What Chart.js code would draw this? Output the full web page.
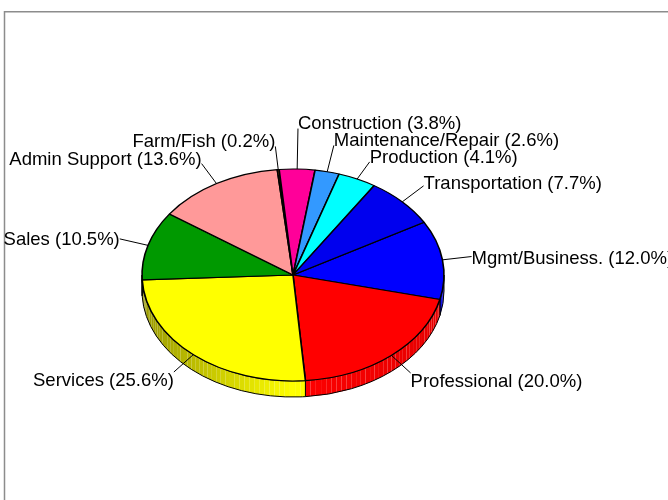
<!DOCTYPE html>
<html>
<head>
<meta charset="utf-8">
<script src="https://cdn.jsdelivr.net/npm/chart.js@4.4.0/dist/chart.umd.min.js"></script>
<style>
  html, body { margin: 0; padding: 0; background: #fff; }
  canvas { display: block; }
</style>
</head>
<body>
<canvas id="pie3d" width="668" height="500"></canvas>
<script>
const categories = [
  "Mgmt/Business.", "Professional", "Services", "Sales", "Admin Support",
  "Farm/Fish", "Construction", "Maintenance/Repair", "Production", "Transportation",
];
const shares = [12.0, 20.0, 25.6, 10.5, 13.6, 0.2, 3.8, 2.6, 4.1, 7.7];
const sliceColors = [
  "#0000ff", "#ff0000", "#ffff00", "#009900", "#ff9999",
  "#cc6600", "#ff0099", "#3399ff", "#00ffff", "#0000ee",
];

const tilt = 0.702;      // vertical squash of the top face
const depth = 16;        // rim thickness
const labelRad = 1.195;  // label ellipse relative to pie
const boxH = 17;         // min vertical gap between overlapping labels
const labelFont = '18.5px "Liberation Sans", Arial, sans-serif';

function shadeColor(hex, f) {
  const n = parseInt(hex.slice(1), 16);
  const r = Math.round(((n >> 16) & 255) * f);
  const g = Math.round(((n >> 8) & 255) * f);
  const b = Math.round((n & 255) * f);
  return `rgb(${r},${g},${b})`;
}

function sideShade(t) {
  const c = Math.cos(t);
  return c > 0 ? 1 - 0.1 * c : 1 + 0.4 * c;
}

const pie3dPlugin = {
  id: "pie3d",
  beforeDraw(chart) {
    const ctx = chart.ctx;
    ctx.save();
    ctx.strokeStyle = "#8c8c8c";
    ctx.lineWidth = 1.5;
    ctx.beginPath();
    ctx.moveTo(4.5, 500);
    ctx.lineTo(4.5, 11.7);
    ctx.lineTo(668, 11.7);
    ctx.stroke();
    ctx.restore();
  },
  beforeDatasetsDraw(chart) {
    const ctx = chart.ctx;
    const arcs = chart.getDatasetMeta(0).data;
    const cx = arcs[0].x, cy = arcs[0].y;
    const a = arcs[0].outerRadius, b = a * tilt;

    // rim: only the front half (angles 0..PI) is visible
    ctx.save();
    arcs.forEach((arc, i) => {
      for (let k = -1; k <= 1; k++) {
        const lo = Math.max(arc.startAngle, 2 * Math.PI * k);
        const hi = Math.min(arc.endAngle, 2 * Math.PI * k + Math.PI);
        if (hi <= lo) continue;
        const steps = Math.max(1, Math.ceil((hi - lo) / (Math.PI / 90)));
        for (let j = 0; j < steps; j++) {
          const t1 = lo + ((hi - lo) * j) / steps;
          const t2 = lo + ((hi - lo) * (j + 1)) / steps;
          ctx.beginPath();
          ctx.moveTo(cx + a * Math.cos(t1), cy + b * Math.sin(t1));
          ctx.lineTo(cx + a * Math.cos(t2), cy + b * Math.sin(t2));
          ctx.lineTo(cx + a * Math.cos(t2), cy + b * Math.sin(t2) + depth);
          ctx.lineTo(cx + a * Math.cos(t1), cy + b * Math.sin(t1) + depth);
          ctx.closePath();
          ctx.fillStyle = shadeColor(sliceColors[i], sideShade((t1 + t2) / 2));
          ctx.fill();
        }
        ctx.beginPath();
        ctx.ellipse(cx, cy, a, b, 0, lo, hi);
        ctx.lineTo(cx + a * Math.cos(hi), cy + b * Math.sin(hi) + depth);
        ctx.ellipse(cx, cy + depth, a, b, 0, hi, lo, true);
        ctx.closePath();
        ctx.strokeStyle = "#000";
        ctx.lineWidth = 1;
        ctx.stroke();
      }
    });
    ctx.restore();

    // squash the top face into an ellipse
    ctx.save();
    ctx.translate(cx, cy);
    ctx.scale(1, tilt);
    ctx.translate(-cx, -cy);
  },
  afterDatasetsDraw(chart) {
    const ctx = chart.ctx;
    ctx.restore();

    const arcs = chart.getDatasetMeta(0).data;
    const cx = arcs[0].x, cy = arcs[0].y;
    const a = arcs[0].outerRadius, b = a * tilt;

    ctx.save();
    ctx.font = labelFont;

    // place labels, pushing apart the ones that collide
    const placed = [];
    for (let i = arcs.length - 1; i >= 0; i--) {
      const arc = arcs[i];
      const mid = (arc.startAngle + arc.endAngle) / 2;
      const c = Math.cos(mid), s = Math.sin(mid);
      const text = `${categories[i]} (${shares[i].toFixed(1)}%)`;
      const w = ctx.measureText(text).width;
      const px = cx + a * labelRad * c;
      const x0 = c >= 0 ? px : px - w;
      const x1 = x0 + w;
      const dir = s < 0 ? -1 : 1;
      const lab = { text, c, s, px, x0, x1, ty: cy + 3 + (b * labelRad + 10) * s, shifted: false };
      for (const p of placed) {
        const gap = Math.abs(lab.ty - p.ty);
        if (x0 < p.x1 && x1 > p.x0 && gap < boxH) {
          if (!p.shifted) {
            p.ty -= (dir * (boxH - gap)) / 2;
            lab.ty += (dir * (boxH - gap)) / 2;
            p.shifted = true;
          } else {
            lab.ty = p.ty + dir * boxH;
          }
          lab.shifted = true;
        }
      }
      placed.push(lab);
    }

    ctx.fillStyle = "#000";
    ctx.strokeStyle = "#000";
    ctx.lineWidth = 1;
    ctx.textBaseline = "middle";
    placed.forEach((p) => {
      const py = p.ty - 3 - 7.5 * p.s;
      ctx.beginPath();
      ctx.moveTo(cx + a * p.c, cy + b * p.s);
      ctx.lineTo(p.px, py);
      ctx.stroke();
      ctx.textAlign = p.c >= 0 ? "left" : "right";
      ctx.fillText(p.text, p.px, p.ty);
    });
    ctx.restore();
  },
};

const pie_chart = new Chart(document.getElementById("pie3d"), {
  type: "pie",
  data: {
    labels: categories,
    datasets: [
      {
        data: shares,
        backgroundColor: sliceColors,
        borderColor: "#000",
        borderWidth: 1.6,
        clip: false,
      },
    ],
  },
  options: {
    responsive: false,
    animation: false,
    rotation: 60.2,
    radius: 151,
    layout: { padding: { left: 0, right: 82, top: 50, bottom: 0 } },
    plugins: {
      legend: { display: false },
      tooltip: { enabled: false },
    },
  },
  plugins: [pie3dPlugin],
});
</script>
</body>
</html>
